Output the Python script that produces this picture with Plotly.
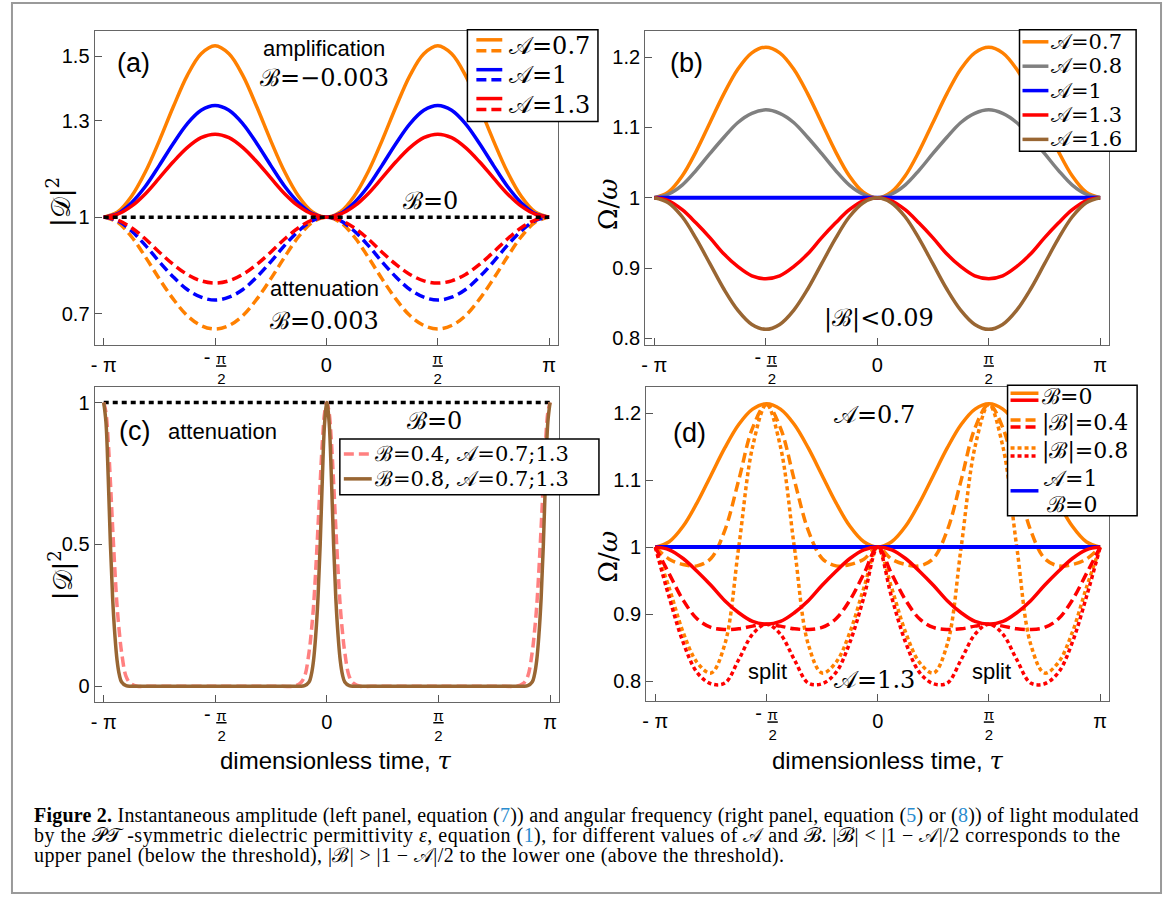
import plotly.graph_objects as go

W, H = 1168, 899

# ---------------- data (tau in units of pi) ----------------
tau16 = [-1.0, -0.9375, -0.875, -0.8125, -0.75, -0.6875, -0.625, -0.5625, -0.5,
         -0.4375, -0.375, -0.3125, -0.25, -0.1875, -0.125, -0.0625, 0.0,
         0.0625, 0.125, 0.1875, 0.25, 0.3125, 0.375, 0.4375, 0.5,
         0.5625, 0.625, 0.6875, 0.75, 0.8125, 0.875, 0.9375, 1.0]
tau_ends = [-1.0, 1.0]
level_one = [1.0, 1.0]

# (a) |D|^2, amplification B=-0.003 (solid) and attenuation B=0.003 (dashed)
amp_A07 = [1.000, 1.016, 1.065, 1.141, 1.238, 1.343, 1.440, 1.508, 1.533, 1.508, 1.440, 1.343, 1.238, 1.141, 1.065, 1.016, 1.000,
           1.016, 1.065, 1.141, 1.238, 1.343, 1.440, 1.508, 1.533, 1.508, 1.440, 1.343, 1.238, 1.141, 1.065, 1.016, 1.000]
amp_A1 = [1.000, 1.011, 1.045, 1.096, 1.161, 1.229, 1.290, 1.332, 1.347, 1.332, 1.290, 1.229, 1.161, 1.096, 1.045, 1.011, 1.000,
          1.011, 1.045, 1.096, 1.161, 1.229, 1.290, 1.332, 1.347, 1.332, 1.290, 1.229, 1.161, 1.096, 1.045, 1.011, 1.000]
amp_A13 = [1.000, 1.009, 1.034, 1.073, 1.122, 1.172, 1.216, 1.247, 1.258, 1.247, 1.216, 1.172, 1.122, 1.073, 1.034, 1.009, 1.000,
           1.009, 1.034, 1.073, 1.122, 1.172, 1.216, 1.247, 1.258, 1.247, 1.216, 1.172, 1.122, 1.073, 1.034, 1.009, 1.000]
att_A07 = [1.000, 0.984, 0.939, 0.876, 0.808, 0.745, 0.694, 0.663, 0.652, 0.663, 0.694, 0.745, 0.808, 0.876, 0.939, 0.984, 1.000,
           0.984, 0.939, 0.876, 0.808, 0.745, 0.694, 0.663, 0.652, 0.663, 0.694, 0.745, 0.808, 0.876, 0.939, 0.984, 1.000]
att_A1 = [1.000, 0.989, 0.957, 0.912, 0.861, 0.814, 0.775, 0.751, 0.742, 0.751, 0.775, 0.814, 0.861, 0.912, 0.957, 0.989, 1.000,
          0.989, 0.957, 0.912, 0.861, 0.814, 0.775, 0.751, 0.742, 0.751, 0.775, 0.814, 0.861, 0.912, 0.957, 0.989, 1.000]
att_A13 = [1.000, 0.991, 0.967, 0.932, 0.891, 0.853, 0.822, 0.802, 0.795, 0.802, 0.822, 0.853, 0.891, 0.932, 0.967, 0.991, 1.000,
           0.991, 0.967, 0.932, 0.891, 0.853, 0.822, 0.802, 0.795, 0.802, 0.822, 0.853, 0.891, 0.932, 0.967, 0.991, 1.000]

# (b) Omega/omega, |B| < 0.09
freq_A07 = [1.000, 1.008, 1.031, 1.066, 1.107, 1.148, 1.183, 1.206, 1.214, 1.206, 1.183, 1.148, 1.107, 1.066, 1.031, 1.008, 1.000,
            1.008, 1.031, 1.066, 1.107, 1.148, 1.183, 1.206, 1.214, 1.206, 1.183, 1.148, 1.107, 1.066, 1.031, 1.008, 1.000]
freq_A08 = [1.000, 1.005, 1.018, 1.039, 1.063, 1.086, 1.107, 1.120, 1.125, 1.120, 1.107, 1.086, 1.063, 1.039, 1.018, 1.005, 1.000,
            1.005, 1.018, 1.039, 1.063, 1.086, 1.107, 1.120, 1.125, 1.120, 1.107, 1.086, 1.063, 1.039, 1.018, 1.005, 1.000]
freq_A13 = [1.000, 0.996, 0.983, 0.964, 0.943, 0.920, 0.902, 0.889, 0.885, 0.889, 0.902, 0.920, 0.943, 0.964, 0.983, 0.996, 1.000,
            0.996, 0.983, 0.964, 0.943, 0.920, 0.902, 0.889, 0.885, 0.889, 0.902, 0.920, 0.943, 0.964, 0.983, 0.996, 1.000]
freq_A16 = [1.000, 0.993, 0.973, 0.942, 0.906, 0.870, 0.840, 0.820, 0.813, 0.820, 0.840, 0.870, 0.906, 0.942, 0.973, 0.993, 1.000,
            0.993, 0.973, 0.942, 0.906, 0.870, 0.840, 0.820, 0.813, 0.820, 0.840, 0.870, 0.906, 0.942, 0.973, 0.993, 1.000]

# (c) |D|^2 above threshold (attenuation)
tau_c = [-1.00, -0.99, -0.98, -0.97, -0.96, -0.95, -0.94, -0.93, -0.92, -0.90, -0.88, -0.85, -0.80,
         -0.50,
         -0.20, -0.15, -0.12, -0.10, -0.08, -0.07, -0.06, -0.05, -0.04, -0.03, -0.02, -0.01, 0.00,
         0.01, 0.02, 0.03, 0.04, 0.05, 0.06, 0.07, 0.08, 0.10, 0.12, 0.15, 0.20,
         0.50,
         0.80, 0.85, 0.88, 0.90, 0.92, 0.93, 0.94, 0.95, 0.96, 0.97, 0.98, 0.99, 1.00]
amp_B04 = [1, 0.965, 0.865, 0.72, 0.56, 0.41, 0.28, 0.19, 0.12, 0.035, 0.01, 0, 0,
           0,
           0, 0, 0.01, 0.035, 0.12, 0.19, 0.28, 0.41, 0.56, 0.72, 0.865, 0.965, 1,
           0.965, 0.865, 0.72, 0.56, 0.41, 0.28, 0.19, 0.12, 0.035, 0.01, 0, 0,
           0,
           0, 0, 0.01, 0.035, 0.12, 0.19, 0.28, 0.41, 0.56, 0.72, 0.865, 0.965, 1]
amp_B08 = [1, 0.93, 0.74, 0.50, 0.31, 0.18, 0.09, 0.04, 0.015, 0.002, 0, 0, 0,
           0,
           0, 0, 0, 0.002, 0.015, 0.04, 0.09, 0.18, 0.31, 0.50, 0.74, 0.93, 1,
           0.93, 0.74, 0.50, 0.31, 0.18, 0.09, 0.04, 0.015, 0.002, 0, 0, 0,
           0,
           0, 0, 0, 0.002, 0.015, 0.04, 0.09, 0.18, 0.31, 0.50, 0.74, 0.93, 1]

# (d) Omega/omega above threshold
freq_A07_B04 = [1.000, 0.982, 0.974, 0.972, 0.983, 1.025, 1.100, 1.178, 1.213, 1.178, 1.100, 1.025, 0.983, 0.972, 0.974, 0.982, 1.000,
                0.982, 0.974, 0.972, 0.983, 1.025, 1.100, 1.178, 1.213, 1.178, 1.100, 1.025, 0.983, 0.972, 0.974, 0.982, 1.000]
freq_A07_B08 = [1.000, 0.939, 0.873, 0.828, 0.812, 0.855, 1.000, 1.150, 1.213, 1.150, 1.000, 0.855, 0.812, 0.828, 0.873, 0.939, 1.000,
                0.939, 0.873, 0.828, 0.812, 0.855, 1.000, 1.150, 1.213, 1.150, 1.000, 0.855, 0.812, 0.828, 0.873, 0.939, 1.000]
freq_A13_B04 = [1.000, 0.960, 0.921, 0.893, 0.880, 0.877, 0.878, 0.882, 0.885, 0.882, 0.878, 0.877, 0.880, 0.893, 0.921, 0.960, 1.000,
                0.960, 0.921, 0.893, 0.880, 0.877, 0.878, 0.882, 0.885, 0.882, 0.878, 0.877, 0.880, 0.893, 0.921, 0.960, 1.000]
freq_A13_B08 = [1.000, 0.925, 0.858, 0.813, 0.796, 0.797, 0.832, 0.870, 0.885, 0.870, 0.832, 0.797, 0.796, 0.813, 0.858, 0.925, 1.000,
                0.925, 0.858, 0.813, 0.796, 0.797, 0.832, 0.870, 0.885, 0.870, 0.832, 0.797, 0.796, 0.813, 0.858, 0.925, 1.000]

BIG = "<span style='font-size:20px;baseline-shift:-8px'>%s</span>"
MINUS = "<span style='font-size:20px'>- </span>"
x_tickvals = [-1, -0.5, 0, 0.5, 1]
x_ticktext = [BIG % "- π",
              MINUS + "<u>π</u><br>\u00a0\u00a0\u00a02",
              BIG % "0",
              "<u>π</u><br>2",
              BIG % "π"]
ya_ticks = [0.7, 1, 1.3, 1.5]
ya_text = ["0.7", "1", "1.3", "1.5"]
yb_ticks = [0.8, 0.9, 1, 1.1, 1.2]
yb_text = ["0.8", "0.9", "1", "1.1", "1.2"]
yc_ticks = [0, 0.5, 1]
yc_text = ["0", "0.5", "1"]

# ---------------- styles ----------------
ORANGE = "#FF8000"
BLUE = "#0000FF"
RED = "#FF0000"
GRAY = "#808080"
BROWN = "#996633"
PINK = "#FF8080"
DASH = "10px,5px"
DOT = "4px,3px"
BDOT = "5px,4px"
LW = 3.5
SANS = "Liberation Sans, Arial, sans-serif"
SERIF = "DejaVu Serif, Liberation Serif, serif"
CAPF = "Liberation Serif, Times New Roman, serif"


def px(x):
    return x / W


def py(y):
    return 1 - y / H


def ln(color, dash=None, width=LW, spline=True):
    d = dict(color=color, width=width)
    if spline:
        d["shape"] = "spline"
        d["smoothing"] = 1.0
    if dash:
        d["dash"] = dash
    return d


fig = go.Figure()


def add(xs, ys, color, ax, dash=None, spline=True, width=LW):
    fig.add_trace(go.Scatter(x=xs, y=ys, mode="lines", line=ln(color, dash, width, spline),
                             xaxis="x" + ax, yaxis="y" + ax, showlegend=False, hoverinfo="skip"))


# panel (a)
add(tau16, amp_A07, ORANGE, "")
add(tau16, att_A07, ORANGE, "", DASH)
add(tau16, amp_A1, BLUE, "")
add(tau16, att_A1, BLUE, "", DASH)
add(tau16, amp_A13, RED, "")
add(tau16, att_A13, RED, "", DASH)
add(tau_ends, level_one, "black", "", BDOT, spline=False)

# panel (b)
add(tau16, freq_A07, ORANGE, "2")
add(tau16, freq_A08, GRAY, "2")
add(tau_ends, level_one, BLUE, "2", spline=False, width=4)
add(tau16, freq_A13, RED, "2")
add(tau16, freq_A16, BROWN, "2")

# panel (c)
add(tau_ends, level_one, "black", "3", BDOT, spline=False)
add(tau_c, amp_B04, PINK, "3", DASH)
add(tau_c, amp_B08, BROWN, "3")

# panel (d)
add(tau16, freq_A07, ORANGE, "4")
add(tau16, freq_A07_B04, ORANGE, "4", DASH)
add(tau16, freq_A07_B08, ORANGE, "4", DOT)
add(tau_ends, level_one, BLUE, "4", spline=False, width=4)
add(tau16, freq_A13, RED, "4")
add(tau16, freq_A13_B04, RED, "4", DASH)
add(tau16, freq_A13_B08, RED, "4", DOT)

# ---------------- axes ----------------
xtickfont = dict(family=SANS, size=15, color="black")
ytickfont = dict(family=SANS, size=20, color="black")


def xax(x0, x1, anchor):
    return dict(domain=[px(x0), px(x1)], range=[-1.0405, 1.0405], anchor=anchor,
                tickvals=x_tickvals, ticktext=x_ticktext, ticks="inside", ticklen=7,
                tickwidth=1.2, tickcolor="#555", showline=True, linecolor="#666",
                linewidth=1.3, mirror=True, showgrid=False, zeroline=False,
                tickfont=xtickfont, ticklabelstandoff=0, fixedrange=True)


def yax(y_top, y_bot, rng, tv, tt, anchor):
    return dict(domain=[py(y_bot), py(y_top)], range=rng, anchor=anchor,
                tickvals=tv, ticktext=tt, ticks="inside", ticklen=7,
                tickwidth=1.2, tickcolor="#555", showline=True, linecolor="#666",
                linewidth=1.3, mirror=True, showgrid=False, zeroline=False,
                tickfont=ytickfont, fixedrange=True)


fig.update_layout(
    width=W, height=H, margin=dict(l=0, r=0, t=0, b=0),
    paper_bgcolor="white", plot_bgcolor="white", showlegend=False,
    xaxis=xax(91, 556, "y"), yaxis=yax(30.7, 346.7, [0.602, 1.58], ya_ticks, ya_text, "x"),
    xaxis2=xax(643.5, 1109, "y2"), yaxis2=yax(30.7, 346.7, [0.7905, 1.2377], yb_ticks, yb_text, "x2"),
    xaxis3=xax(91, 557, "y3"), yaxis3=yax(389, 705, [-0.055, 1.054], yc_ticks, yc_text, "x3"),
    xaxis4=xax(644.5, 1109, "y4"), yaxis4=yax(389, 704.3, [0.770, 1.2386], yb_ticks, yb_text, "x4"),
)

shapes = []
annots = []


def rect(x0, y0, x1, y1, color="black", width=1.5, fill="white"):
    shapes.append(dict(type="rect", xref="paper", yref="paper", x0=px(x0), x1=px(x1),
                       y0=py(y1), y1=py(y0), line=dict(color=color, width=width), fillcolor=fill,
                       layer="above"))


def sample(x0, x1, y, color, dash=None, width=LW):
    l = dict(color=color, width=width)
    if dash:
        l["dash"] = dash
    shapes.append(dict(type="line", xref="paper", yref="paper", x0=px(x0), x1=px(x1),
                       y0=py(y), y1=py(y), line=l, layer="above"))


def text(t, x, y, size, family, xanchor="center", yanchor="middle", angle=0, color="black", align="center"):
    annots.append(dict(text=t, x=px(x), y=py(y), xref="paper", yref="paper", showarrow=False,
                       xanchor=xanchor, yanchor=yanchor, textangle=angle, align=align,
                       font=dict(size=size, family=family, color=color)))


# outer frame
shapes.append(dict(type="rect", xref="paper", yref="paper", x0=px(8), x1=px(1161), y0=py(897), y1=py(3),
                   line=dict(color="#9a9a9a", width=2), layer="below"))

# legend (a)
rect(465, 30, 596, 122)
for (ys, yd, yt, lab, c) in [(40, 51, 46, "𝒜=0.7", ORANGE), (70, 80, 75, "𝒜=1", BLUE), (99, 110, 105, "𝒜=1.3", RED)]:
    sample(474, 500, ys, c)
    sample(474, 500, yd, c, DASH)
    text(lab, 505, yt, 24, SERIF, xanchor="left")

# legend (b)
rect(1019, 30, 1136, 152)
for (y, lab, c) in [(42, "𝒜=0.7", ORANGE), (66.5, "𝒜=0.8", GRAY), (91, "𝒜=1", BLUE),
                    (115.5, "𝒜=1.3", RED), (140, "𝒜=1.6", BROWN)]:
    sample(1022, 1048, y, c)
    text(lab, 1049, y, 21, SERIF, xanchor="left")

# legend (c)
rect(337, 441, 597, 497)
sample(341, 369, 456, PINK, DASH)
sample(341, 369, 481, BROWN)
text("ℬ=0.4, 𝒜=0.7;1.3", 370, 456, 21, SERIF, xanchor="left")
text("ℬ=0.8, 𝒜=0.7;1.3", 370, 481, 21, SERIF, xanchor="left")

# legend (d)
rect(1007, 387, 1137, 518)
sample(1010, 1038, 395, ORANGE)
sample(1010, 1038, 402, RED)
text("ℬ=0", 1040, 398.5, 22, SERIF, xanchor="left")
sample(1010, 1038, 422, ORANGE, DASH)
sample(1010, 1038, 429, RED, DASH)
text("|ℬ|=0.4", 1040, 425, 22, SERIF, xanchor="left")
sample(1010, 1038, 450, ORANGE, DOT)
sample(1010, 1038, 458, RED, DOT)
text("|ℬ|=0.8", 1040, 453, 22, SERIF, xanchor="left")
sample(1010, 1038, 493, BLUE)
text("𝒜=1", 1042, 480.5, 22, SERIF, xanchor="left")
text("ℬ=0", 1045, 506.5, 22, SERIF, xanchor="left")

# panel texts
text("(a)", 130, 63, 27, SANS)
text("amplification", 321, 49, 22, SANS)
text("ℬ=−0.003", 322, 78, 24, SERIF)
text("ℬ=0", 428, 202, 24, SERIF)
text("attenuation", 322, 290, 22, SANS)
text("ℬ=0.003", 322, 322, 24, SERIF)

text("(b)", 685, 63, 27, SANS)
text("|ℬ|<0.09", 878, 320, 24, SERIF)

text("(c)", 131, 433, 27, SANS)
text("attenuation", 219, 433, 22, SANS)
text("ℬ=0", 432, 423, 24, SERIF)

text("(d)", 688, 435, 27, SANS)
text("𝒜=0.7", 873, 417, 24, SERIF)
text("split", 766, 675, 22, SANS)
text("𝒜=1.3", 873, 683, 24, SERIF)
text("split", 991, 675, 22, SANS)

# axis titles
text("|𝒟|<sup>2</sup>", 55, 203, 26, SERIF, angle=-90)
text("|𝒟|<sup>2</sup>", 58, 578, 26, SERIF, angle=-90)
text("Ω/<i>ω</i>", 606, 205, 26, SERIF, angle=-90)
text("Ω/<i>ω</i>", 606, 559, 26, SERIF, angle=-90)
TAU = "<span style='font-family:DejaVu Serif'><i>τ</i></span>"
text("dimensionless time, " + TAU, 333, 764, 24, SANS)
text("dimensionless time, " + TAU, 887, 764, 24, SANS)

# caption (one text block, three lines)
LINK = "#2a8ccf"
cap1 = ("<b>Figure 2.</b> Instantaneous amplitude (left panel, equation (<span style='color:%s'>7</span>)) "
        "and angular frequency (right panel, equation (<span style='color:%s'>5</span>) or "
        "(<span style='color:%s'>8</span>)) of light modulated") % (LINK, LINK, LINK)
cap2 = ("by the 𝒫𝒯 -symmetric dielectric permittivity <i>ε</i>, equation (<span style='color:%s'>1</span>), "
        "for different values of 𝒜 and ℬ. |ℬ| &lt; |1 − 𝒜|/2 corresponds to the") % LINK
cap3 = "upper panel (below the threshold), |ℬ| &gt; |1 − 𝒜|/2 to the lower one (above the threshold)."
caption = ("<span style='font-size:20px;letter-spacing:0.22px'>%s</span><br>"
           "<span style='font-size:20px;letter-spacing:0.48px'>%s</span><br>"
           "<span style='font-size:20px;letter-spacing:0.4px'>%s</span>") % (cap1, cap2, cap3)
text(caption, 28, 839, 15.3, CAPF, xanchor="left", align="left")

fig.update_layout(shapes=shapes, annotations=annots)

fig.write_html("out.html", config={"displayModeBar": False},
               post_script="document.body.style.margin='0';document.body.style.padding='0';")
